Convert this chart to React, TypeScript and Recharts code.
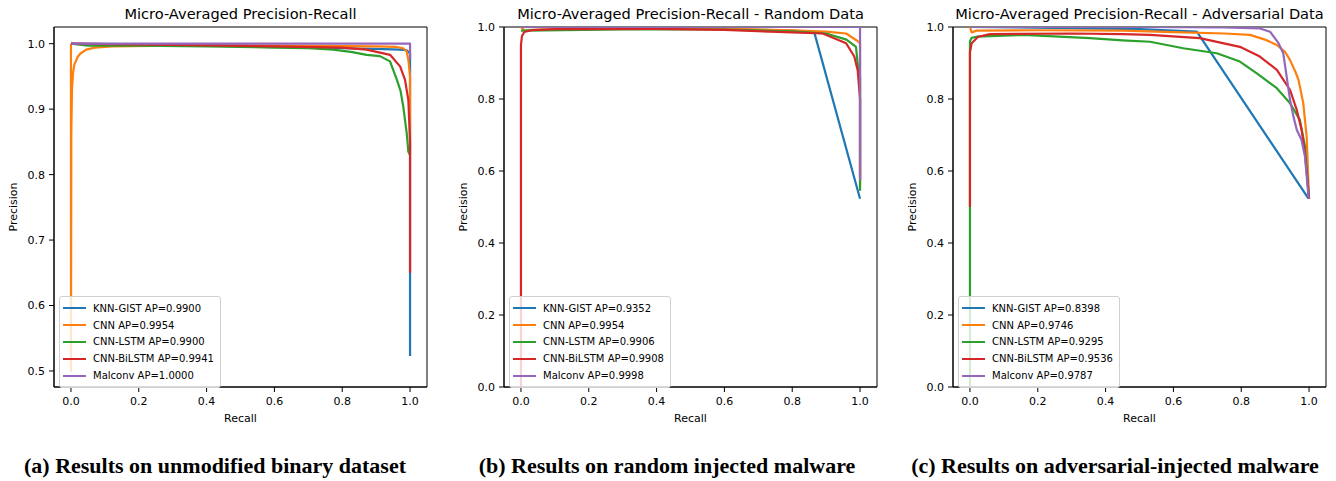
import { Label, Line, LineChart, ReferenceArea, XAxis, YAxis } from 'recharts'

/* Three precision-recall panels side by side, matplotlib look (tab10 colours,
   boxed axes, framed legend in the lower-left corner). */

const MODELS = ['KNN-GIST', 'CNN', 'CNN-LSTM', 'CNN-BiLSTM', 'Malconv']
const COLORS = ['#1f77b4', '#ff7f0e', '#2ca02c', '#d62728', '#9467bd']
const X_TICKS = [0, 0.2, 0.4, 0.6, 0.8, 1.0]

// (a) unmodified binary dataset — [recall, precision]
const AP_UNMODIFIED = ['0.9900', '0.9954', '0.9900', '0.9941', '1.0000']
const knnUnmodified = [[0, 1.0], [0.2, 0.999], [0.4, 0.998], [0.6, 0.996], [0.8, 0.993], [0.9, 0.992], [0.97, 0.991], [0.99, 0.99], [1.0, 0.985], [1.0, 0.523]]
const cnnUnmodified = [[0, 1.0], [0, 0.5], [0.001, 0.86], [0.003, 0.93], [0.006, 0.955], [0.01, 0.968], [0.02, 0.98], [0.028, 0.985], [0.045, 0.991], [0.07, 0.994], [0.12, 0.996], [0.3, 0.997], [0.6, 0.997], [0.9, 0.996], [0.96, 0.995], [0.98, 0.993], [0.99, 0.988], [0.995, 0.975], [1.0, 0.95], [1.0, 0.83]]
const lstmUnmodified = [[0, 1.0], [0.05, 0.997], [0.2, 0.997], [0.4, 0.996], [0.6, 0.994], [0.7, 0.993], [0.774, 0.991], [0.83, 0.987], [0.872, 0.983], [0.911, 0.981], [0.941, 0.973], [0.961, 0.945], [0.972, 0.928], [0.98, 0.904], [0.99, 0.864], [0.995, 0.835], [1.0, 0.83]]
const bilstmUnmodified = [[0, 1.0], [0.3, 0.998], [0.6, 0.996], [0.8, 0.994], [0.872, 0.991], [0.941, 0.983], [0.971, 0.965], [0.985, 0.945], [0.995, 0.914], [1.0, 0.85], [1.0, 0.65]]
const malconvUnmodified = [[0, 1.0], [0.5, 1.0], [1.0, 1.0], [1.0, 0.976]]

// (b) random injected malware
const AP_RANDOM = ['0.9352', '0.9954', '0.9906', '0.9908', '0.9998']
const knnRandom = [[0, 1.0], [0.3, 0.996], [0.6, 0.994], [0.8, 0.99], [0.865, 0.985], [1.0, 0.523]]
const cnnRandom = [[0, 1.0], [0.01, 0.99], [0.05, 0.993], [0.3, 0.996], [0.6, 0.995], [0.8, 0.991], [0.9, 0.987], [0.959, 0.982], [0.988, 0.964], [1.0, 0.955], [1.0, 0.56]]
const lstmRandom = [[0, 0.99], [0.01, 0.99], [0.3, 0.993], [0.6, 0.993], [0.8, 0.988], [0.9, 0.982], [0.96, 0.965], [0.988, 0.945], [0.995, 0.88], [1.0, 0.86], [1.0, 0.545]]
const bilstmRandom = [[0, 0.0], [0, 0.95], [0.003, 0.975], [0.01, 0.986], [0.03, 0.991], [0.1, 0.994], [0.4, 0.995], [0.6, 0.992], [0.8, 0.985], [0.89, 0.982], [0.959, 0.955], [0.983, 0.918], [0.993, 0.88], [1.0, 0.8], [1.0, 0.575]]
const malconvRandom = [[0, 1.0], [0.5, 1.0], [1.0, 1.0], [1.0, 0.575]]

// (c) adversarial-injected malware
const AP_ADVERSARIAL = ['0.8398', '0.9746', '0.9295', '0.9536', '0.9787']
const knnAdversarial = [[0, 1.0], [0.3, 0.997], [0.5, 0.994], [0.669, 0.987], [0.998, 0.524]]
const cnnAdversarial = [[0, 1.0], [0.005, 0.985], [0.02, 0.99], [0.2, 0.991], [0.45, 0.99], [0.6, 0.986], [0.75, 0.982], [0.826, 0.978], [0.87, 0.965], [0.905, 0.95], [0.93, 0.93], [0.944, 0.908], [0.96, 0.875], [0.969, 0.853], [0.983, 0.788], [0.993, 0.695], [1.0, 0.523]]
const lstmAdversarial = [[0, 0.0], [0, 0.96], [0.005, 0.97], [0.02, 0.973], [0.157, 0.978], [0.354, 0.969], [0.45, 0.963], [0.531, 0.959], [0.629, 0.941], [0.728, 0.927], [0.796, 0.904], [0.846, 0.871], [0.905, 0.83], [0.944, 0.788], [0.973, 0.742], [0.988, 0.668], [1.0, 0.523]]
const bilstmAdversarial = [[0, 0.5], [0, 0.93], [0.005, 0.955], [0.024, 0.973], [0.059, 0.98], [0.3, 0.982], [0.452, 0.98], [0.531, 0.978], [0.678, 0.969], [0.796, 0.945], [0.855, 0.918], [0.905, 0.881], [0.944, 0.825], [0.964, 0.769], [0.978, 0.714], [0.988, 0.649], [1.0, 0.523]]
const malconvAdversarial = [[0, 1.0], [0.5, 1.0], [0.75, 0.999], [0.855, 0.996], [0.885, 0.987], [0.91, 0.955], [0.924, 0.927], [0.934, 0.862], [0.944, 0.797], [0.954, 0.751], [0.964, 0.714], [0.978, 0.686], [0.988, 0.64], [0.999, 0.523]]

const FONT = '"DejaVu Sans", Verdana, sans-serif'
const TICK = { fill: '#000', fontSize: 11, fontFamily: FONT }
const X_DOMAIN: [number, number] = [-0.05, 1.05]
const PLOT_TOP = 27
const PLOT_BOTTOM = 387
const CHART_H = 430

const toPoints = (rows: number[][]) => rows.map(([r, p]) => ({ r, p }))

interface PanelProps {
  left: number
  width: number
  axisWidth: number
  rightGap: number
  title: string
  yDomain: [number, number]
  yTicks: number[]
  curves: number[][][]
  scores: string[]
}

function PrPanel({ left, width, axisWidth, rightGap, title, yDomain, yTicks, curves, scores }: PanelProps) {
  const plotLeft = left + axisWidth
  const plotRight = left + width - rightGap
  const mid = (plotLeft + plotRight) / 2
  const labelX = plotLeft - 40
  return (
    <>
      <div style={{
        position: 'absolute', left: mid - 250, width: 500, top: 5, textAlign: 'center',
        fontFamily: FONT, fontSize: 14.6, lineHeight: '18px', color: '#000', whiteSpace: 'nowrap',
      }}>{title}</div>
      <div style={{ position: 'absolute', left, top: 0 }}>
        <LineChart width={width} height={CHART_H}
                   margin={{ top: PLOT_TOP, right: rightGap, bottom: 0, left: 0 }}>
          <XAxis type="number" dataKey="r" domain={X_DOMAIN} ticks={X_TICKS} allowDataOverflow
                 tick={TICK} tickSize={5} tickMargin={5} stroke="#000" height={CHART_H - PLOT_BOTTOM}
                 tickFormatter={(v: number) => v.toFixed(1)}>
            <Label value="Recall" position="insideBottom" offset={8}
                   style={{ fontFamily: FONT, fontSize: 11, fill: '#000' }} />
          </XAxis>
          <YAxis type="number" dataKey="p" domain={yDomain} ticks={yTicks} allowDataOverflow
                 tick={TICK} tickSize={5} tickMargin={4} stroke="#000" width={axisWidth}
                 tickFormatter={(v: number) => v.toFixed(1)} />
          <ReferenceArea x1={X_DOMAIN[0]} x2={X_DOMAIN[1]} y1={yDomain[0]} y2={yDomain[1]}
                         fill="none" stroke="#000" strokeWidth={1} ifOverflow="visible" />
          {curves.map((rows, i) => (
            <Line key={MODELS[i]} data={toPoints(rows)} dataKey="p" type="linear"
                  stroke={COLORS[i]} strokeWidth={2.2} dot={false} isAnimationActive={false}
                  strokeLinejoin="round" />
          ))}
        </LineChart>
      </div>
      <div style={{
        position: 'absolute', left: labelX - 40, top: 199, width: 80, height: 16, lineHeight: '16px',
        textAlign: 'center', transform: 'rotate(-90deg)',
        fontFamily: FONT, fontSize: 11, color: '#000',
      }}>Precision</div>
      <div style={{
        position: 'absolute', left: plotLeft + 5, top: 296, boxSizing: 'border-box',
        border: '1px solid #d0d0d0', borderRadius: 3, background: 'rgba(255,255,255,0.8)',
        padding: '3px 6px 3px 3px', fontFamily: FONT, fontSize: 10, color: '#000',
      }}>
        {MODELS.map((name, i) => (
          <div key={name} style={{ display: 'flex', alignItems: 'center', height: 16.8, whiteSpace: 'nowrap' }}>
            <span style={{ display: 'inline-block', width: 23, height: 2, background: COLORS[i], marginRight: 7 }} />
            {name} AP={scores[i]}
          </div>
        ))}
      </div>
    </>
  )
}

const CAPTIONS = [
  { text: '(a) Results on unmodified binary dataset', center: 215 },
  { text: '(b) Results on random injected malware', center: 667 },
  { text: '(c) Results on adversarial-injected malware', center: 1115 },
]

export default function App() {
  return (
    <div style={{ position: 'absolute', left: 0, top: 0, width: 1336, height: 481, background: '#fff', overflow: 'hidden' }}>
      <PrPanel left={0} width={445} axisWidth={54} rightGap={18}
               title="Micro-Averaged Precision-Recall"
               yDomain={[0.4755, 1.0255]} yTicks={[0.5, 0.6, 0.7, 0.8, 0.9, 1.0]}
               curves={[knnUnmodified, cnnUnmodified, lstmUnmodified, bilstmUnmodified, malconvUnmodified]}
               scores={AP_UNMODIFIED} />
      <PrPanel left={445} width={445} axisWidth={59} rightGap={13}
               title="Micro-Averaged Precision-Recall - Random Data"
               yDomain={[0, 1]} yTicks={[0, 0.2, 0.4, 0.6, 0.8, 1.0]}
               curves={[knnRandom, cnnRandom, lstmRandom, bilstmRandom, malconvRandom]}
               scores={AP_RANDOM} />
      <PrPanel left={890} width={446} axisWidth={63} rightGap={10}
               title="Micro-Averaged Precision-Recall - Adversarial Data"
               yDomain={[0, 1]} yTicks={[0, 0.2, 0.4, 0.6, 0.8, 1.0]}
               curves={[knnAdversarial, cnnAdversarial, lstmAdversarial, bilstmAdversarial, malconvAdversarial]}
               scores={AP_ADVERSARIAL} />
      {CAPTIONS.map((c) => (
        <div key={c.text} style={{
          position: 'absolute', left: c.center - 250, width: 500, top: 452, textAlign: 'center',
          fontFamily: '"Liberation Serif", serif', fontWeight: 'bold', fontSize: 22, color: '#000',
          whiteSpace: 'nowrap', lineHeight: '28px',
        }}>{c.text}</div>
      ))}
    </div>
  )
}
